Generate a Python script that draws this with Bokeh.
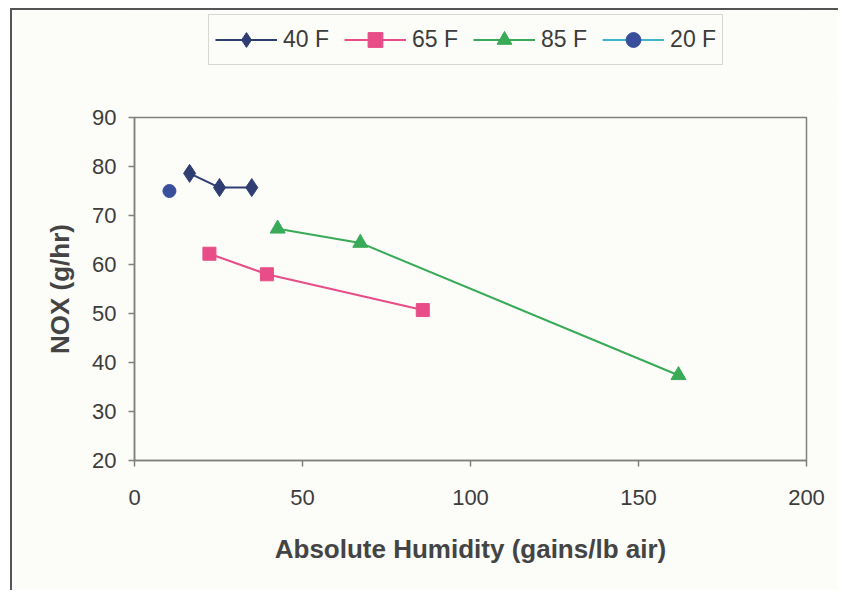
from bokeh.plotting import figure
from bokeh.models import Range1d, FixedTicker, Legend, LegendItem
from bokeh.layouts import column
from bokeh.embed import file_html
from bokeh.resources import INLINE

# ---- data ----
series_names = ["40 F", "65 F", "85 F", "20 F"]
hum_40 = [16.4, 25.3, 34.9]
nox_40 = [78.6, 75.7, 75.7]
hum_65 = [22.3, 39.4, 85.8]
nox_65 = [62.2, 58.0, 50.7]
hum_85 = [42.6, 67.2, 161.9]
nox_85 = [67.3, 64.4, 37.4]
hum_20 = [10.4]
nox_20 = [75.0]
x_ticks = [0, 50, 100, 150, 200]
y_ticks = [20, 30, 40, 50, 60, 70, 80, 90]

BG = "#fcfcf8"
FONT = "Liberation Sans"

c40 = "#2f3d73"
c65 = "#e84d87"
c85 = "#38aa58"
c20l = "#3eb5cb"
c20m = "#3a4f9b"

STYLES = [
    (hum_40, nox_40, dict(line_color=c40), dict(marker="diamond", size=18, fill_color=c40, line_color=c40)),
    (hum_65, nox_65, dict(line_color=c65), dict(marker="square", size=13, fill_color=c65, line_color=c65)),
    (hum_85, nox_85, dict(line_color=c85), dict(marker="triangle", size=15, fill_color=c85, line_color=c85)),
    (hum_20, nox_20, dict(line_color=c20l), dict(marker="circle", size=13, fill_color=c20m, line_color=c20m)),
]

# ---------------- main plot ----------------
p = figure(width=826, height=488, output_backend="svg", toolbar_location=None,
           x_range=Range1d(0, 200), y_range=Range1d(20, 90),
           min_border_left=122, min_border_right=32, min_border_top=15,
           min_border_bottom=130)
p.background_fill_color = BG
p.border_fill_color = BG
p.outline_line_color = "#808080"
p.outline_line_width = 1.5
p.grid.visible = False

for ax in (p.xaxis[0], p.yaxis[0]):
    ax.axis_line_color = "#808080"
    ax.axis_line_width = 1.5
    ax.major_tick_line_color = "#808080"
    ax.major_tick_line_width = 1.5
    ax.major_tick_out = 6
    ax.major_tick_in = 0
    ax.minor_tick_line_color = None
    ax.major_label_text_font = FONT
    ax.major_label_text_font_size = "22px"
    ax.major_label_text_color = "#3c3c3c"
    ax.axis_label_text_font = FONT
    ax.axis_label_text_font_style = "bold"
    ax.axis_label_text_font_size = "26px"
    ax.axis_label_text_color = "#444444"

p.xaxis.ticker = FixedTicker(ticks=x_ticks)
p.yaxis.ticker = FixedTicker(ticks=y_ticks)
p.xaxis.axis_label = "Absolute Humidity (gains/lb air)"
p.yaxis.axis_label = "NOX (g/hr)"
p.xaxis.major_label_standoff = 23
p.xaxis.axis_label_standoff = 26
p.yaxis.major_label_standoff = 12
p.yaxis.axis_label_standoff = 14

for xs, ys, lkw, mkw in STYLES:
    p.line(xs, ys, line_width=2, **lkw)
    p.scatter(xs, ys, **mkw)

# ---------------- legend strip above the plot ----------------
# same series drawn against a y range that keeps them out of view,
# so only the legend entries are visible here
lg = figure(width=826, height=92, output_backend="svg", toolbar_location=None,
            x_range=Range1d(0, 200), y_range=Range1d(-2, -1),
            x_axis_type=None, y_axis_type=None,
            min_border_left=0, min_border_right=0, min_border_top=0,
            min_border_bottom=0)
lg.background_fill_color = BG
lg.border_fill_color = BG
lg.outline_line_color = None
lg.grid.visible = False

items = []
for name, (xs, ys, lkw, mkw) in zip(series_names, STYLES):
    rl = lg.line(xs, ys, line_width=2, **lkw)
    rm = lg.scatter(xs, ys, **mkw)
    items.append(LegendItem(label=name, renderers=[rl, rm]))

legend = Legend(items=items, orientation="horizontal", location=(74, 37))
legend.label_text_font = FONT
legend.label_text_font_size = "23px"
legend.label_text_color = "#3c3c3c"
legend.glyph_width = 62
legend.glyph_height = 37
legend.label_standoff = 6
legend.spacing = 15
legend.padding = 6
legend.margin = 0
legend.border_line_color = "#b0b0b0"
legend.border_line_width = 1.5
legend.background_fill_color = BG
legend.background_fill_alpha = 1
lg.add_layout(legend, "center")

page = column(lg, p, spacing=0)
page.styles = {"border-left": "2px solid #555555", "border-top": "2px solid #555555",
               "margin-left": "10px", "margin-top": "8px"}

open("out.html", "w").write(file_html(page, INLINE))
